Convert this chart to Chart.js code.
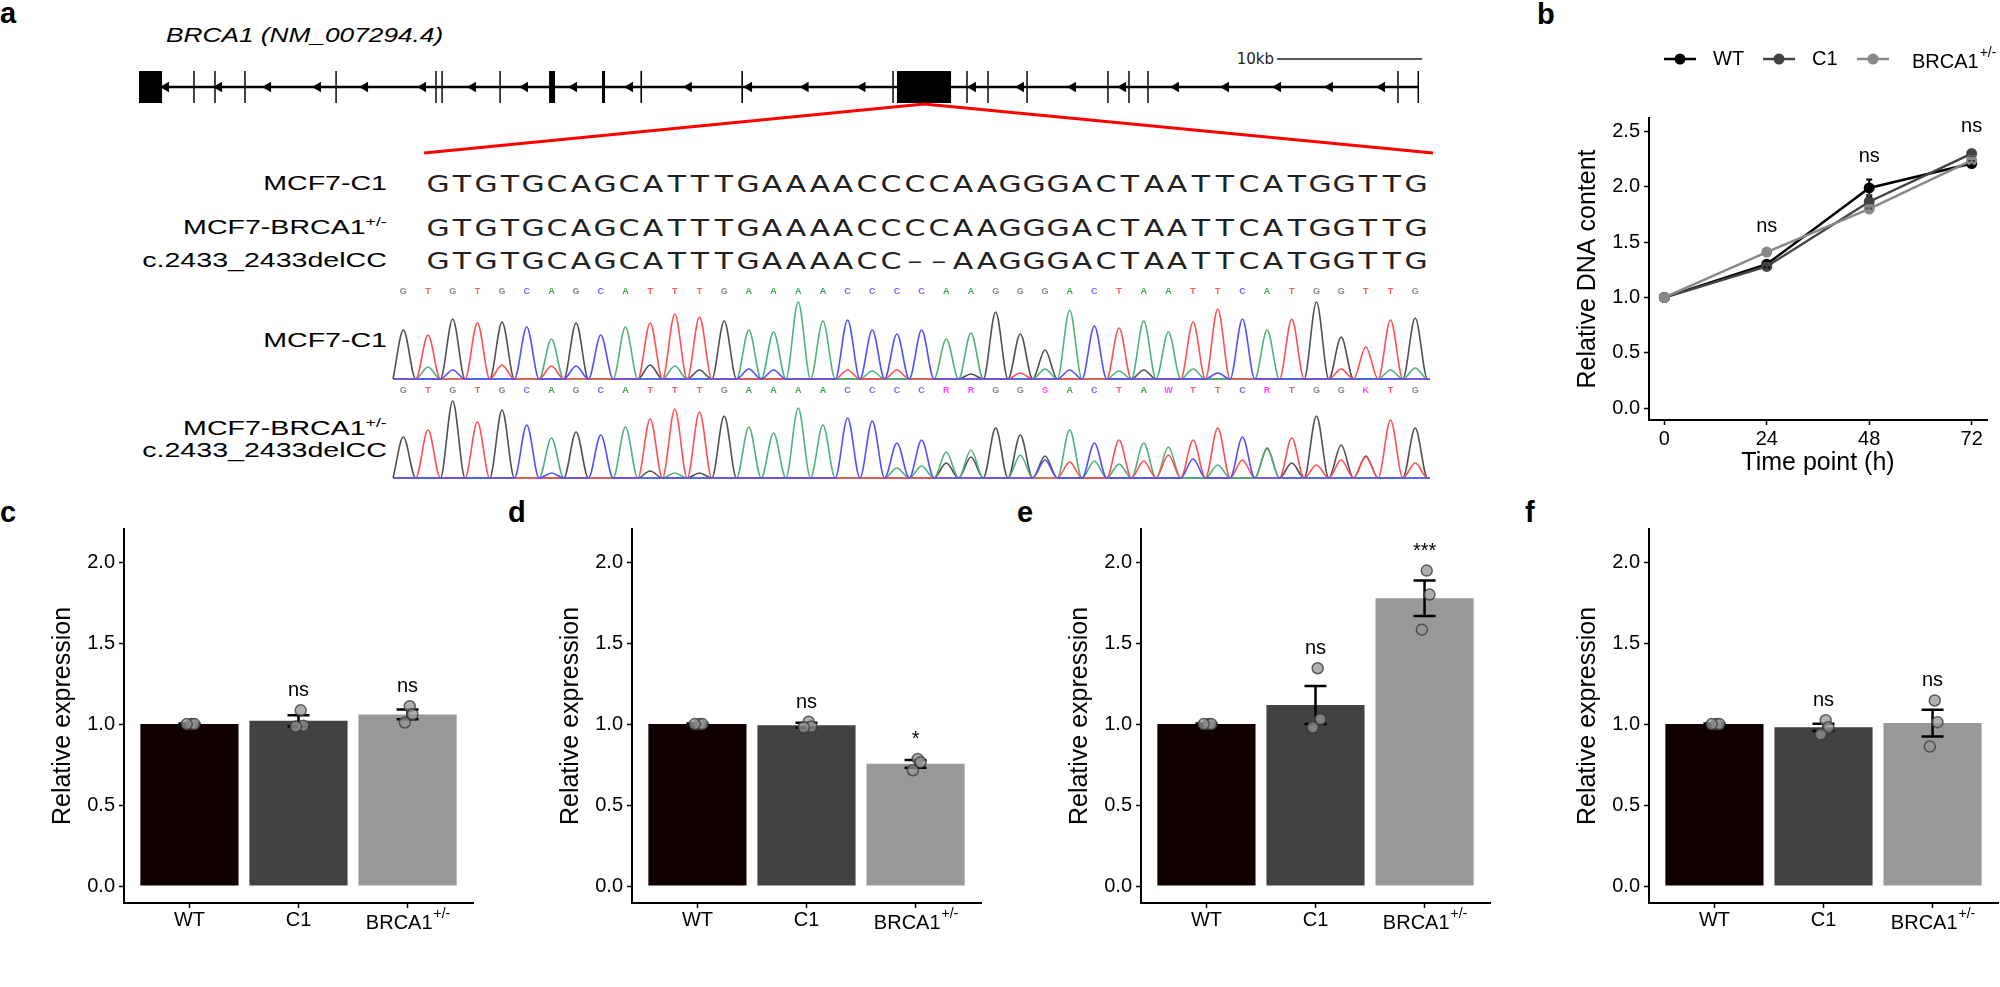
<!DOCTYPE html>
<html>
<head>
<meta charset="utf-8">
<script src="https://cdn.jsdelivr.net/npm/chart.js@4.4.0/dist/chart.umd.min.js"></script>
<style>
  body { margin: 0; background: #fff; overflow: hidden; }
  #fig { position: relative; width: 2000px; height: 987px; overflow: hidden;
         font-family: "Liberation Sans", Arial, sans-serif; color: #000; }
  canvas { position: absolute; }
  .t { position: absolute; white-space: nowrap; }
  .pl { font-weight: bold; font-size: 29px; line-height: 30px; }
  .lbl { font-size: 21px; line-height: 26px; right: 1613px; transform: scaleX(1.36); transform-origin: right center; }
  .lbl sup { font-size: 0.62em; vertical-align: baseline; position: relative; top: -0.6em; }
  .seq { position: absolute; width: 24px; text-align: center; font-family: "DejaVu Sans", sans-serif;
         font-size: 23px; line-height: 28px; color: #222; transform: scaleX(1.3); }
</style>
</head>
<body>
<div id="fig">
  <div class="t pl" style="left:0;top:-2px">a</div>
  <div class="t pl" style="left:1537px;top:-1px">b</div>
  <div class="t pl" style="left:0;top:497px">c</div>
  <div class="t pl" style="left:508px;top:497px">d</div>
  <div class="t pl" style="left:1017px;top:497px">e</div>
  <div class="t pl" style="left:1525px;top:497px">f</div>

  <div class="t" style="left:166px;top:23px;font-size:21px;line-height:24px;font-style:italic;transform:scaleX(1.25);transform-origin:left center">BRCA1 (NM_007294.4)</div>
  <div class="t" style="right:726px;top:50px;font-family:'DejaVu Sans',sans-serif;font-size:15px;line-height:18px;color:#222">10kb</div>

  <div class="t lbl" style="top:170px">MCF7-C1</div>
  <div class="t lbl" style="top:214px">MCF7-BRCA1<sup>+/-</sup></div>
  <div class="t lbl" style="top:247px">c.2433_2433delCC</div>
  <div class="t lbl" style="top:327px">MCF7-C1</div>
  <div class="t lbl" style="top:415px">MCF7-BRCA1<sup>+/-</sup></div>
  <div class="t lbl" style="top:437px">c.2433_2433delCC</div>

  <canvas id="gene" width="1330" height="125" style="left:120px;top:40px"></canvas>
  <canvas id="trace1" width="1070" height="101" style="left:380px;top:284px"></canvas>
  <canvas id="trace2" width="1070" height="101" style="left:380px;top:383px"></canvas>
  <canvas id="chartB" width="441" height="450" style="left:1559px;top:30px"></canvas>
  <canvas id="chartC" width="446" height="435" style="left:34px;top:513px"></canvas>
  <canvas id="chartD" width="446" height="435" style="left:542px;top:513px"></canvas>
  <canvas id="chartE" width="446" height="435" style="left:1051px;top:513px"></canvas>
  <canvas id="chartF" width="446" height="435" style="left:1559px;top:513px"></canvas>
</div>

<script>
// gene model (kb from the start of the drawn locus)
const geneLength = 88.27;
const exonStart = [0.00, 3.74, 5.19, 7.26, 13.54, 20.43, 20.85, 24.85, 28.28, 31.93, 34.58, 41.54, 51.95, 52.27, 57.05, 58.50, 61.19, 66.77, 68.22, 69.53, 86.77, 88.17];
const exonEnd   = [1.59, 3.84, 5.29, 7.36, 13.64, 20.53, 20.95, 24.95, 28.69, 32.14, 34.69, 41.65, 52.05, 56.00, 57.15, 58.60, 61.29, 66.87, 68.32, 69.63, 86.87, 88.27];
const strandArrows = [1.86, 5.52, 8.90, 12.34, 15.59, 19.59, 23.03, 26.62, 30.00, 33.86, 37.92, 42.07, 45.97, 49.89, 57.51, 60.82, 64.41, 67.86, 71.51, 74.96, 78.55, 82.13, 85.72];
const scaleBarKb = [78.48, 88.48];
const zoomExon = 54.14;
const zoomFrom = [19.66, 89.24];

// sequences
const seqRef = 'GTGTGCAGCATTTGAAAACCCCAAGGGACTAATTCATGGTTG';
const seqMut = 'GTGTGCAGCATTTGAAAACC\u2013\u2013AAGGGACTAATTCATGGTTG';
const calls1 = 'GTGTGCAGCATTTGAAAACCCCAAGGGACTAATTCATGGTTG';
const calls2 = 'GTGTGCAGCATTTGAAAACCCCRRGGSACTAWTTCRTGGKTG';

// chromatogram peak heights per base position (MCF7-C1)
const tr1A = [0,12,0,0,0,0,40,0,0,52,0,13,0,0,49,47,77,58,0,8,0,0,40,46,0,0,10,69,0,8,58,47,10,0,0,49,0,0,0,0,9,11];
const tr1C = [0,0,9,0,0,52,0,13,44,0,0,0,0,0,10,9,0,0,59,49,45,49,0,0,0,0,0,9,53,0,0,0,0,6,60,0,0,0,0,0,0,0];
const tr1G = [49,0,60,0,57,0,0,56,0,0,14,0,9,58,0,0,0,0,0,0,0,0,0,5,67,45,29,0,0,0,9,0,0,0,0,0,0,77,42,0,0,61];
const tr1T = [0,44,0,56,14,0,13,0,0,0,56,65,62,0,0,0,0,0,9,0,9,0,0,0,0,6,0,0,0,51,0,0,57,70,0,0,60,0,10,32,59,0];
// chromatogram peak heights per base position (MCF7-BRCA1+/-)
const tr2A = [0,0,0,0,0,0,40,0,0,51,0,5,0,0,51,45,70,53,0,0,10,12,26,28,0,23,0,48,17,14,35,31,0,13,0,29,0,0,0,0,0,0];
const tr2C = [0,0,0,0,0,53,5,0,43,0,0,0,0,0,0,0,0,0,60,57,35,38,0,0,0,0,18,0,35,0,0,0,19,0,41,0,0,0,0,0,0,0];
const tr2G = [41,0,77,0,68,0,0,46,0,0,7,0,5,62,0,0,0,0,0,0,0,0,15,21,50,43,22,0,0,0,0,0,0,0,0,30,15,62,33,22,0,50];
const tr2T = [0,48,0,56,0,0,0,0,0,0,59,69,66,0,0,0,0,0,0,0,0,0,0,0,0,0,0,16,0,38,17,23,38,50,18,0,40,13,18,21,58,15];

// panel b: proliferation
const timePoints = [0, 24, 48, 72];
const wtDNA = [1.0, 1.30, 1.99, 2.21];
const wtDNAse = [0, 0.03, 0.075, 0.02];
const c1DNA = [1.0, 1.28, 1.865, 2.30];
const c1DNAse = [0, 0.03, 0.06, 0.03];
const brDNA = [1.0, 1.41, 1.80, 2.24];
const brDNAse = [0, 0.02, 0.03, 0.02];
const dnaSig = ['', 'ns', 'ns', 'ns'];
const dnaTicks = [0, 0.5, 1, 1.5, 2, 2.5];

// panels c-f: relative expression
const groups = ['WT', 'C1', 'BRCA1'];
const exprTicks = [0, 0.5, 1, 1.5, 2];
const jitter = [0.02, 0.045, -0.025];

const cMean = [1.0, 1.02, 1.06];
const cSE = [0.004, 0.035, 0.03];
const cPts = [[1, 1, 1], [1.085, 0.99, 0.985], [1.11, 1.06, 1.01]];
const cSig = ['', 'ns', 'ns'];

const dMean = [1.0, 0.993, 0.755];
const dSE = [0.004, 0.015, 0.024];
const dPts = [[1, 1, 1], [1.015, 0.985, 0.98], [0.785, 0.765, 0.715]];
const dSig = ['', 'ns', '*'];

const eMean = [1.0, 1.118, 1.777];
const eSE = [0.004, 0.117, 0.11];
const ePts = [[1, 1, 1], [1.345, 1.03, 0.98], [1.948, 1.80, 1.583]];
const eSig = ['', 'ns', '***'];

const fMean = [1.0, 0.98, 1.006];
const fSE = [0.004, 0.022, 0.083];
const fPts = [[1, 1, 1], [1.024, 0.98, 0.937], [1.146, 1.012, 0.861]];
const fSig = ['', 'ns', 'ns'];

const family = '"Liberation Sans", Arial, sans-serif';
const barColors = ['#100000', '#424242', '#999999'];
const lineColors = ['#000000', '#444444', '#888888'];

Chart.defaults.font.family = family;
Chart.defaults.color = '#000';
Chart.defaults.animation = false;
Chart.defaults.responsive = false;
Chart.defaults.plugins.legend.display = false;
Chart.defaults.plugins.tooltip.enabled = false;

// sequence rows as text
const fig = document.getElementById('fig');
[[seqRef, 183], [seqRef, 227], [seqMut, 260]].forEach(([s, y]) => {
  [...s].forEach((ch, i) => {
    const el = document.createElement('div');
    el.className = 'seq';
    el.textContent = ch;
    el.style.left = (426 + i * 23.85) + 'px';
    el.style.top = (y - 13.5) + 'px';
    fig.appendChild(el);
  });
});

function drawSup(ctx, base, sup, x, y, size, align) {
  ctx.save();
  ctx.fillStyle = '#000';
  ctx.textBaseline = 'middle';
  ctx.textAlign = 'left';
  const big = size + 'px ' + family;
  const small = Math.round(size * 0.68) + 'px ' + family;
  ctx.font = big;
  const w1 = ctx.measureText(base).width;
  ctx.font = small;
  const w2 = ctx.measureText(sup).width;
  const x0 = align === 'center' ? x - (w1 + w2) / 2 : x;
  ctx.font = big;
  ctx.fillText(base, x0, y);
  ctx.font = small;
  ctx.fillText(sup, x0 + w1 + 1, y - size * 0.45);
  ctx.restore();
}

function tickGrid() {
  return { drawOnChartArea: false, drawTicks: true, tickLength: 5, tickWidth: 1.5, tickColor: '#000', offset: false };
}
function axisBorder() {
  return { display: true, color: '#000', width: 2 };
}
function yAxis(min, max, ticks, title) {
  return {
    min: min, max: max,
    afterFit: s => { s.width = 80; },
    afterBuildTicks: s => { s.ticks = ticks.map(v => ({ value: v })); },
    ticks: { font: { size: 20 }, padding: 4, callback: v => v.toFixed(1) },
    grid: tickGrid(), border: axisBorder(),
    title: { display: true, text: title, font: { size: 25 }, padding: { top: 4, bottom: 4 } }
  };
}

// ---------- gene track ----------
const exonPts = [];
exonStart.forEach((s, i) => {
  exonPts.push({ x: s, y: 0 }, { x: exonEnd[i], y: 0 }, { x: exonEnd[i] + 0.01, y: null });
});
new Chart(document.getElementById('gene'), {
  type: 'line',
  data: {
    datasets: [
      { data: [{ x: zoomFrom[0], y: -3.88 }, { x: zoomExon, y: -1 }, { x: zoomFrom[1], y: -3.88 }],
        borderColor: '#ff0000', borderWidth: 3, pointRadius: 0, clip: false },
      { data: [{ x: 0, y: 0 }, { x: geneLength, y: 0 }], borderColor: '#000', borderWidth: 2.5, pointRadius: 0, clip: false },
      { data: exonPts, borderColor: '#000', borderWidth: 32, borderCapStyle: 'butt', pointRadius: 0, spanGaps: false, clip: false },
      { type: 'scatter', data: strandArrows.map(x => ({ x: x, y: 0 })), pointStyle: 'triangle', rotation: 270,
        pointRadius: 6, pointBackgroundColor: '#000', pointBorderWidth: 0, clip: false },
      { data: scaleBarKb.map(x => ({ x: x, y: 1.65 })), borderColor: '#222', borderWidth: 1.5,
        pointStyle: 'line', rotation: 90, pointRadius: 5, pointBorderColor: '#222', pointBorderWidth: 1.5, clip: false }
    ]
  },
  options: {
    layout: { padding: { left: 19, right: 31, top: 30, bottom: 61 } },
    scales: {
      x: { type: 'linear', display: false, min: 0, max: geneLength },
      y: { display: false, min: -1, max: 1 }
    }
  }
});

// ---------- chromatograms ----------
const callColor = { A: '#3aa84a', C: '#6a6aff', G: '#8a8a8a', T: '#ff5a5a' };
function makeTrace(id, calls, A, C, G, T) {
  const toPts = h => {
    const p = [{ x: 0.58, y: 0 }];
    h.forEach((v, i) => { p.push({ x: i + 1, y: v }); p.push({ x: i + 1.5, y: 0 }); });
    p.push({ x: 42.6, y: 0 });
    return p;
  };
  const series = [[C, '#5050ff'], [T, '#ff5050'], [A, '#4fb27a'], [G, '#505050']];
  const letters = {
    id: 'calls',
    afterDraw(chart) {
      const ctx = chart.ctx, xs = chart.scales.x;
      ctx.save();
      ctx.font = 'bold 9px ' + family;
      ctx.textAlign = 'center';
      ctx.textBaseline = 'middle';
      [...calls].forEach((ch, i) => {
        ctx.fillStyle = callColor[ch] || '#ff44ff';
        ctx.fillText(ch, xs.getPixelForValue(i + 1), chart.chartArea.top - 7);
      });
      ctx.restore();
    }
  };
  new Chart(document.getElementById(id), {
    type: 'line',
    data: {
      datasets: series.map(([h, col]) => ({
        data: toPts(h), borderColor: col, borderWidth: 1.6, pointRadius: 0,
        cubicInterpolationMode: 'monotone', fill: false, clip: false
      }))
    },
    options: {
      layout: { padding: { left: 13, right: 20, top: 15, bottom: 5 } },
      scales: {
        x: { type: 'linear', display: false, min: 0.58, max: 42.6 },
        y: { display: false, min: -1, max: 80 }
      }
    },
    plugins: [letters]
  });
}
makeTrace('trace1', calls1, tr1A, tr1C, tr1G, tr1T);
makeTrace('trace2', calls2, tr2A, tr2C, tr2G, tr2T);

// ---------- panel b ----------
const dnaSeries = [[wtDNA, wtDNAse], [c1DNA, c1DNAse], [brDNA, brDNAse]];
const dnaExtras = {
  id: 'dnaExtras',
  afterDatasetsDraw(chart) {
    const ctx = chart.ctx, xs = chart.scales.x, ys = chart.scales.y;
    ctx.save();
    dnaSeries.forEach(([m, se], k) => {
      ctx.strokeStyle = lineColors[k];
      ctx.lineWidth = 2;
      m.forEach((v, i) => {
        if (!se[i]) return;
        const x = xs.getPixelForValue(timePoints[i]);
        const y1 = ys.getPixelForValue(v + se[i]), y2 = ys.getPixelForValue(v - se[i]);
        ctx.beginPath();
        ctx.moveTo(x, y1); ctx.lineTo(x, y2);
        ctx.moveTo(x - 3, y1); ctx.lineTo(x + 3, y1);
        ctx.moveTo(x - 3, y2); ctx.lineTo(x + 3, y2);
        ctx.stroke();
      });
    });
    ctx.fillStyle = '#000';
    ctx.font = '20px ' + family;
    ctx.textAlign = 'center';
    ctx.textBaseline = 'alphabetic';
    dnaSig.forEach((s, i) => {
      if (!s) return;
      const top = Math.max(...dnaSeries.map(([m, se]) => m[i] + se[i]));
      ctx.fillText(s, xs.getPixelForValue(timePoints[i]), ys.getPixelForValue(top) - 18);
    });
    // legend
    const names = ['WT', 'C1'];
    const symX = [105, 204, 298], txtX = [154, 253, 353];
    symX.forEach((sx, k) => {
      ctx.strokeStyle = lineColors[k];
      ctx.fillStyle = lineColors[k];
      ctx.lineWidth = 2.5;
      ctx.beginPath(); ctx.moveTo(sx, 29); ctx.lineTo(sx + 32, 29); ctx.stroke();
      ctx.beginPath(); ctx.arc(sx + 16, 29, 5.5, 0, Math.PI * 2); ctx.fill();
    });
    ctx.fillStyle = '#000';
    ctx.textAlign = 'left';
    ctx.textBaseline = 'middle';
    names.forEach((n, k) => ctx.fillText(n, txtX[k], 29));
    ctx.restore();
    drawSup(ctx, 'BRCA1', '+/-', txtX[2], 32, 20, 'left');
  }
};
new Chart(document.getElementById('chartB'), {
  type: 'line',
  data: {
    datasets: dnaSeries.map(([m], k) => ({
      data: m.map((v, i) => ({ x: timePoints[i], y: v })),
      borderColor: lineColors[k], backgroundColor: lineColors[k], borderWidth: 2.5,
      pointRadius: 5.5, pointBackgroundColor: lineColors[k], pointBorderWidth: 0,
      order: 2 - k
    }))
  },
  options: {
    layout: { padding: { left: 10, right: 13, top: 88, bottom: 0 } },
    scales: {
      x: {
        type: 'linear', min: -3.6, max: 75.6,
        afterFit: s => { s.height = 60; },
        afterBuildTicks: s => { s.ticks = timePoints.map(v => ({ value: v })); },
        ticks: { font: { size: 20 }, padding: 2, maxRotation: 0, callback: v => String(v) },
        grid: tickGrid(), border: axisBorder(),
        title: { display: true, text: 'Time point (h)', font: { size: 25 }, padding: { top: 0, bottom: 2 } }
      },
      y: yAxis(-0.108, 2.622, dnaTicks, 'Relative DNA content')
    }
  },
  plugins: [dnaExtras]
});

// ---------- panels c-f ----------
function makeBars(id, mean, se, pts, sig) {
  const dots = [];
  pts.forEach((g, i) => g.forEach((v, j) => dots.push({ x: i + 1 + jitter[j], y: v })));
  const extras = {
    id: 'barExtras',
    afterDatasetDraw(chart, args) {
      if (args.index !== 0) return;
      const ctx = chart.ctx, xs = chart.scales.x, ys = chart.scales.y;
      ctx.save();
      ctx.strokeStyle = '#000';
      ctx.lineWidth = 2.5;
      mean.forEach((m, i) => {
        const x = xs.getPixelForValue(i + 1);
        const y1 = ys.getPixelForValue(m + se[i]), y2 = ys.getPixelForValue(m - se[i]);
        ctx.beginPath();
        ctx.moveTo(x, y1); ctx.lineTo(x, y2);
        ctx.moveTo(x - 11, y1); ctx.lineTo(x + 11, y1);
        ctx.moveTo(x - 11, y2); ctx.lineTo(x + 11, y2);
        ctx.stroke();
      });
      ctx.restore();
    },
    afterDraw(chart) {
      const ctx = chart.ctx, xs = chart.scales.x, ys = chart.scales.y;
      ctx.save();
      ctx.fillStyle = '#000';
      ctx.font = '20px ' + family;
      ctx.textAlign = 'center';
      ctx.textBaseline = 'alphabetic';
      sig.forEach((s, i) => {
        if (!s) return;
        ctx.fillText(s, xs.getPixelForValue(i + 1), ys.getPixelForValue(Math.max(...pts[i])) - 14);
      });
      ctx.restore();
      drawSup(ctx, groups[2], '+/-', xs.getPixelForValue(3), xs.top + 5 + 15, 20, 'center');
    }
  };
  return new Chart(document.getElementById(id), {
    type: 'bar',
    data: {
      datasets: [
        { data: mean.map((v, i) => ({ x: i + 1, y: v })), backgroundColor: barColors,
          categoryPercentage: 1, barPercentage: 0.9, order: 1 },
        { type: 'scatter', data: dots, pointRadius: 5.5, pointBackgroundColor: 'rgba(150,150,150,0.75)',
          pointBorderColor: 'rgba(60,60,60,0.8)', pointBorderWidth: 1.5, order: 0 }
      ]
    },
    options: {
      layout: { padding: { left: 10, right: 5, top: 10, bottom: 0 } },
      scales: {
        x: {
          type: 'linear', min: 0.4, max: 3.6, offset: false,
          afterFit: s => { s.height = 45; },
          afterBuildTicks: s => { s.ticks = [1, 2, 3].map(v => ({ value: v })); },
          ticks: { font: { size: 20 }, padding: 0, maxRotation: 0, autoSkip: false,
                   callback: v => (v === 3 ? '' : groups[v - 1]) },
          grid: tickGrid(), border: axisBorder()
        },
        y: yAxis(-0.105, 2.205, exprTicks, 'Relative expression')
      }
    },
    plugins: [extras]
  });
}
makeBars('chartC', cMean, cSE, cPts, cSig);
makeBars('chartD', dMean, dSE, dPts, dSig);
makeBars('chartE', eMean, eSE, ePts, eSig);
makeBars('chartF', fMean, fSE, fPts, fSig);
</script>
</body>
</html>
